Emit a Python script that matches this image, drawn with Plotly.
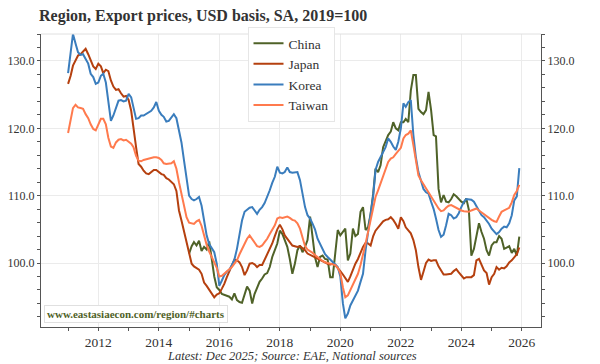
import pandas as pd
import plotly.graph_objects as go

dates = pd.date_range("2011-01-01", periods=180, freq="MS")
china_dates = dates[48:]

korea = [128.2, 131.3, 134.0, 132.6, 131.3, 130.9, 131.0, 130.3, 129.6, 128.1, 127.6, 126.6,
         126.8, 127.8, 128.1, 126.8, 124.1, 121.1, 121.9, 123.0, 124.1, 124.2, 124.0, 124.1,
         125.1, 124.6, 122.9, 121.4, 121.5, 121.9, 121.9, 122.1, 122.4, 122.6, 123.1, 123.9,
         122.6, 122.0, 121.7, 121.0, 121.1, 121.7, 122.1, 121.5, 119.7, 117.9, 115.2, 112.2,
         110.0, 109.5, 109.3, 109.5, 109.8, 108.5, 106.3, 104.1, 102.8, 102.1, 101.6, 99.9,
         96.6, 97.4, 98.2, 98.7, 99.0, 99.7, 100.5, 102.1, 104.4, 106.3, 107.6, 107.9,
         108.2, 108.3, 107.8, 107.3, 107.9, 108.3, 108.9, 109.8, 110.8, 111.9, 112.8, 114.3,
         113.4, 113.3, 113.5, 114.2, 113.5, 113.4, 113.5, 113.5, 112.3, 110.0, 108.3, 107.1,
         106.6, 105.8, 105.0, 103.6, 102.9, 102.0, 101.3, 100.9, 100.5, 100.1, 99.8, 99.4,
         98.0, 94.0, 91.8, 92.5, 93.7, 94.5, 95.2, 95.9, 97.2, 98.4, 101.9, 104.9,
         107.3, 110.0, 113.8, 115.0, 115.7, 116.3, 117.2, 118.5, 118.0, 117.3, 116.8, 118.0,
         120.0, 123.7, 123.2, 123.9, 124.2, 119.0, 115.7, 113.5, 112.0, 111.0, 110.5, 110.3,
         109.1, 108.0, 106.6, 104.9, 103.9, 104.2, 105.6, 107.3, 107.1, 106.6, 106.8, 107.4,
         108.3, 109.1, 109.5, 109.5, 109.4, 109.1, 108.5, 107.8, 107.1, 106.8, 106.3, 105.8,
         105.1, 104.6, 104.3, 104.6, 105.1, 105.4, 105.3, 105.9, 107.1, 109.3, 109.9, 114.1]

taiwan = [119.3, 121.4, 123.0, 123.5, 123.1, 123.0, 122.9, 122.1, 121.5, 120.6, 119.9, 119.7,
          120.7, 121.4, 121.4, 120.6, 118.6, 117.3, 117.1, 117.9, 118.3, 118.4, 118.2, 118.3,
          118.0, 117.7, 117.2, 115.9, 115.2, 115.1, 115.3, 115.4, 115.6, 115.6, 115.7, 115.7,
          115.6, 115.3, 114.8, 114.7, 114.7, 114.8, 115.1, 114.0, 112.0, 110.2, 108.5, 106.8,
          106.0, 105.9, 105.8, 106.2, 106.4, 105.5, 104.1, 102.7, 101.7, 100.8, 100.1, 99.3,
          98.0, 98.1, 98.4, 98.7, 99.1, 99.4, 99.9, 100.4, 101.3, 102.1, 102.9, 103.6,
          104.1, 103.6, 103.0, 102.5, 102.4, 102.6, 103.1, 103.6, 104.3, 104.9, 105.6, 106.6,
          106.8, 106.7, 106.8, 106.9, 106.7, 106.4, 106.3, 105.9, 105.1, 103.8, 102.5, 102.0,
          101.8, 101.5, 101.2, 100.9, 100.5, 100.3, 100.1, 100.0, 99.9, 99.8, 99.7, 99.3,
          98.5, 96.4, 94.9, 95.2, 96.0, 96.9, 97.5, 98.4, 99.7, 101.1, 102.9, 104.6,
          106.4, 108.3, 109.8, 110.8, 111.8, 112.9, 114.0, 115.0, 115.5, 115.7, 116.2, 116.6,
          117.1, 118.5, 119.0, 119.2, 119.7, 117.5, 115.0, 113.0, 112.3, 111.7, 111.0, 110.5,
          109.8, 109.2, 108.6, 108.1, 107.7, 107.8, 108.2, 108.5, 108.6, 108.4, 108.1, 108.0,
          107.8, 107.7, 107.6, 107.6, 107.8, 108.0, 108.1, 107.8, 107.5, 107.2, 106.9, 106.6,
          106.4, 106.2, 106.1, 106.9, 107.6, 107.8, 108.0, 108.2, 109.0, 110.1, 110.7, 111.6]

japan = [126.6, 127.8, 129.3, 130.1, 130.8, 131.0, 131.4, 131.8, 131.0, 130.1, 129.2, 128.8,
         129.6, 129.2, 128.2, 128.7, 128.5, 127.1, 126.2, 125.7, 125.8, 125.2, 124.7, 124.8,
         124.2, 122.6, 119.7, 117.2, 114.7, 114.3, 113.7, 113.3, 113.2, 113.5, 113.8, 113.8,
         113.5, 113.2, 113.1, 112.6, 112.4, 112.0, 111.7, 110.7, 107.8, 106.3, 104.6, 103.3,
         101.1, 99.9, 99.5, 99.3, 99.0, 98.4, 97.1, 96.6, 96.0, 95.4, 94.9, 95.3,
         95.5, 96.2, 96.9, 97.9, 98.8, 99.7, 100.5, 100.4, 100.1, 99.4, 98.2, 98.9,
         99.9, 100.0, 99.8, 99.4, 99.7, 99.7, 100.5, 101.4, 102.0, 102.9, 104.0, 105.0,
         105.7, 105.0, 104.1, 103.6, 103.1, 102.6, 102.5, 102.4, 102.5, 102.2, 101.9, 101.4,
         101.2, 101.0, 100.9, 100.7, 100.4, 100.3, 100.1, 99.9, 99.8, 99.9, 99.7, 99.3,
         98.8, 98.3, 97.7, 97.2, 98.0, 99.0, 99.9, 100.6, 101.5, 102.4, 103.0, 102.9,
         102.6, 104.0, 104.8, 105.3, 105.8, 106.2, 106.4, 106.5, 106.8, 106.4, 105.8, 105.1,
         106.8, 106.2, 105.3, 104.9, 104.4, 103.4, 101.9, 99.4, 97.5, 98.7, 100.0, 100.5,
         100.3, 100.4, 100.4, 99.5, 98.8, 98.3, 98.3, 98.3, 98.4, 98.8, 99.1, 98.6,
         98.1, 97.7, 97.9, 97.9, 97.9, 98.2, 100.4, 100.6, 99.8, 98.9, 98.5, 96.8,
         97.9, 98.4, 99.4, 99.0, 99.3, 99.2, 99.5, 100.1, 100.4, 100.9, 101.3, 102.3]

china = [101.4, 102.5, 103.1, 102.6, 103.3, 101.8, 102.4, 102.0, 103.2, 100.5, 98.0, 96.4,
         96.0, 95.4, 95.3, 95.2, 95.0, 94.6, 95.5, 94.5, 94.2, 94.1, 95.5, 96.5,
         95.9, 94.0, 95.4, 96.4, 97.2, 97.7, 98.3, 98.5, 99.4, 100.9, 101.9, 102.9,
         104.8, 104.3, 103.4, 102.4, 100.6, 98.4, 99.9, 101.9, 102.6, 101.6, 102.4, 103.4,
         106.9, 103.4, 100.9, 99.4, 100.9, 101.1, 100.6, 100.5, 97.9, 97.9, 101.9, 104.9,
         104.1, 104.6, 105.1, 100.4, 101.4, 105.1, 104.0, 104.3, 107.6, 108.3, 104.9, 105.3,
         107.3, 110.3, 114.0, 113.5, 114.5, 117.2, 118.0, 119.0, 119.5, 120.9, 120.0, 119.7,
         120.9, 120.9, 121.4, 120.9, 125.6, 127.9, 127.9, 122.9, 122.4, 122.1, 122.7, 125.4,
         122.7, 119.0, 118.8, 111.0, 109.0, 110.1, 109.1, 109.0, 109.5, 110.2, 109.9, 109.5,
         109.1, 108.9, 109.6, 107.9, 101.1, 102.1, 103.9, 105.9, 104.6, 103.6, 101.9, 101.1,
         102.6, 103.1, 103.1, 104.0, 103.6, 102.1, 102.3, 102.5, 101.5, 102.1, 101.1, 103.9]

series_names = ["China", "Japan", "Korea", "Taiwan"]
series_colors = ["#4f6228", "#b5400f", "#3a7dbd", "#ff7a4d"]
series_x = [china_dates, dates, dates, dates]
series_y = [china, japan, korea, taiwan]

x_tick_years = list(range(2012, 2027, 2))
y_tick_vals = [100, 110, 120, 130]

SERIF = "Liberation Serif"
TXT = "#333333"
AX = "#555555"
GRID = "#ebebeb"

# the page body adds an 8px margin, so the figure is drawn 8px smaller and
# every position below is expressed in figure pixels (page pixels minus 8)
W, H = 592, 356
L, T, B = 33, 26, 37
R = 59
PW = W - L - R
PH = H - T - B

fig = go.Figure()
for name, col, xs, ys in zip(series_names, series_colors, series_x, series_y):
    fig.add_trace(go.Scatter(x=xs, y=ys, name=name, mode="lines",
                             line=dict(color=col, width=2)))

yax_common = dict(
    range=[90.5, 134.0], tickvals=y_tick_vals, tickformat=".1f",
    ticks="outside", ticklen=3, tickcolor=AX, tickwidth=1,
    showline=True, linecolor=AX, linewidth=1.2,
    tickfont=dict(family=SERIF, size=12, color=TXT),
    minor=dict(dtick=2, tick0=0, ticks="outside", ticklen=3, tickcolor=AX, showgrid=False),
    zeroline=False, automargin=False,
)

fig.update_layout(
    width=W, height=H,
    margin=dict(l=L, r=R, t=T, b=B),
    paper_bgcolor="white", plot_bgcolor="white",
    title=dict(text="<b>Region, Export prices, USD basis, SA, 2019=100</b>",
               x=31 / W, xanchor="left", y=1 - 7 / H, yanchor="middle",
               font=dict(family=SERIF, size=16, color=TXT)),
    xaxis=dict(
        type="date", range=["2010-02-08", "2026-08-20"],
        tickvals=[f"{y}-01-01" for y in x_tick_years],
        ticktext=[str(y) for y in x_tick_years],
        ticks="outside", ticklen=3, tickcolor=AX,
        showline=True, linecolor=AX, linewidth=1.2,
        showgrid=True, gridcolor=GRID, automargin=False,
        tickfont=dict(family=SERIF, size=13.5, color=TXT),
        minor=dict(dtick="M12", tick0="2011-01-01", ticks="outside", ticklen=3,
                   tickcolor=AX, showgrid=False),
    ),
    yaxis=dict(**yax_common, showgrid=True, gridcolor=GRID, side="left"),
    yaxis2=dict(**yax_common, overlaying="y", side="right", matches="y", showgrid=False),
    legend=dict(x=(283 - L) / PW, xanchor="center", y=1 + 7 / PH, yanchor="top",
                bgcolor="white", bordercolor="#e6e6e6", borderwidth=1,
                font=dict(family=SERIF, size=13.5, color=TXT),
                itemwidth=30, tracegroupgap=0),
    showlegend=True,
)

# invisible trace to anchor right axis
fig.add_trace(go.Scatter(x=[dates[0]], y=[korea[0]], yaxis="y2", mode="lines",
                         showlegend=False, hoverinfo="skip", line=dict(width=0),
                         opacity=0))

fig.add_shape(type="line", xref="paper", yref="paper", x0=0, x1=1, y0=1, y1=1,
              line=dict(color="#e0e0e0", width=1))

fig.add_annotation(text="<b>www.eastasiaecon.com/region/#charts</b>",
                   xref="paper", yref="paper", x=0.006, y=0.015,
                   xanchor="left", yanchor="bottom", showarrow=False,
                   font=dict(family=SERIF, size=11, color="#4f6228"),
                   bgcolor="white", bordercolor="#e0e0e0", borderwidth=1, borderpad=2)

fig.add_annotation(text="<i>Latest: Dec 2025; Source: EAE, National sources</i>",
                   xref="paper", yref="paper", x=(284 - L) / PW, y=-(348 - (H - B)) / PH,
                   xanchor="center", yanchor="middle", showarrow=False,
                   font=dict(family=SERIF, size=12.5, color=TXT))

fig.write_html("out.html")
